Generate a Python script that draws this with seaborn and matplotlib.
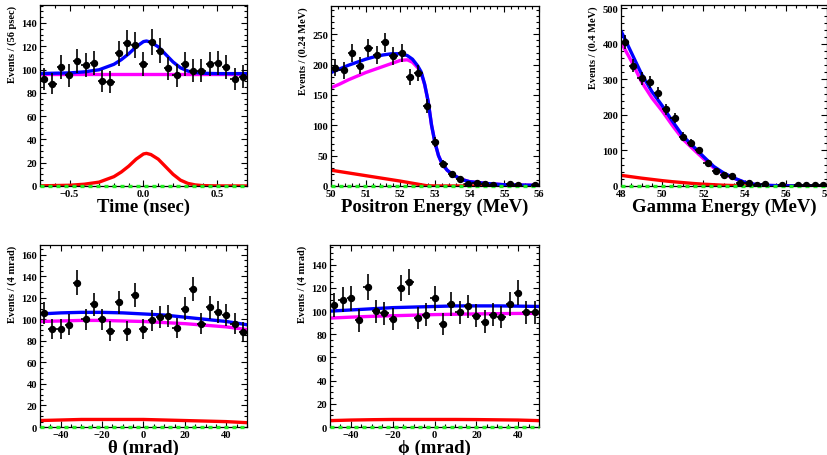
import numpy as np
import matplotlib
matplotlib.use('Agg')
import matplotlib.pyplot as plt
from matplotlib.ticker import MultipleLocator
import seaborn as sns

# ---- data ----
# Time (nsec), 25 bins of 0.056
time_x = [-0.672 + 0.056 * i for i in range(25)]
time_n = [92, 88, 102, 95, 107, 104, 106, 90, 89, 114, 123, 121, 105,
          124, 116, 101, 95, 105, 99, 99, 105, 106, 102, 92, 94]
time_cx = [-0.7, -0.5, -0.4, -0.3, -0.2, -0.15, -0.1, -0.05, 0.0, 0.02,
           0.05, 0.1, 0.15, 0.2, 0.25, 0.3, 0.35, 0.4, 0.5, 0.7]
time_red = [0.1, 0.6, 1.5, 3.3, 8.0, 12.0, 17.0, 23.0, 27.5, 28.0,
            27.0, 23.0, 16.5, 10.0, 5.0, 2.2, 0.9, 0.3, 0.05, 0.0]
time_blue = [96.6, 97.1, 98.0, 99.8, 104.5, 108.5, 113.5, 119.5, 124.0, 124.5,
             123.5, 119.5, 113.0, 106.5, 101.5, 98.7, 97.4, 96.8, 96.5, 96.5]
time_mag_x = [-0.7, 0.7]
time_mag = [96.5, 96.5]

# Positron energy (MeV), 25 bins of 0.24
epos_x = [50.12 + 0.24 * i for i in range(25)]
epos_n = [195, 191, 220, 198, 227, 216, 237, 214, 219, 180, 186, 132, 73,
          36, 19, 11, 4, 5, 4, 2, 0, 3, 1, 0, 1]
epos_cx = [50.0, 50.25, 50.5, 50.75, 51.0, 51.25, 51.5, 51.75, 52.0, 52.2,
           52.35, 52.5, 52.6, 52.7, 52.8, 52.9, 53.0, 53.1, 53.2, 53.35,
           53.5, 53.75, 54.0, 54.5, 55.0, 56.0]
epos_blue = [187, 193, 199, 204, 209, 213, 216, 218, 218, 215,
             209, 198, 188, 168, 140, 100, 71, 50, 37, 26,
             19, 11, 7, 4, 2, 1]
epos_mag = [162, 168, 175, 181, 187, 192, 197, 202, 207, 208,
            204, 195, 186, 167, 140, 100, 71, 50, 37, 26,
            19, 11, 7, 4, 2, 1]
epos_red_x = [50.0, 50.5, 51.0, 51.5, 52.0, 52.5, 52.75, 53.0, 56.0]
epos_red = [26, 21.5, 17, 12.5, 8, 3, 0.5, 0, 0]

# Gamma energy (MeV), 25 bins of 0.4
egam_x = [48.2 + 0.4 * i for i in range(25)]
egam_n = [405, 339, 303, 292, 262, 216, 191, 139, 120, 101, 64, 42, 31,
          28, 9, 8, 4, 6, 0, 3, 0, 2, 2, 3, 2]
egam_cx = [48.0, 48.5, 49.0, 49.5, 50.0, 50.5, 51.0, 51.5, 52.0, 52.5,
           53.0, 53.5, 54.0, 54.5, 55.0, 56.0, 58.0]
egam_blue = [437, 376, 315, 266, 226, 182, 141, 112, 83, 55,
             36, 22, 10.5, 4.5, 1.8, 0.4, 0]
egam_mag = [405, 352, 293, 248, 211, 170, 132, 104, 77, 51,
            34, 21, 10, 4, 1.5, 0.3, 0]
egam_red = [30, 26, 22, 18.5, 15, 12, 9.5, 7, 5, 3.5,
            2, 1.2, 0.7, 0.4, 0.2, 0, 0]

# theta (mrad), 25 bins of 4
theta_x = [-48 + 4 * i for i in range(25)]
theta_n = [106, 91, 91, 95, 134, 100, 114, 100, 89, 116, 89, 123, 91,
           99, 102, 103, 92, 110, 128, 96, 111, 107, 104, 96, 88]
ang_cx = [-50, -40, -30, -20, -10, 0, 10, 20, 30, 40, 50]
theta_blue = [105, 106, 106.5, 106.5, 106, 105, 104, 102, 100, 98, 95]
theta_mag = [98, 98.5, 99, 99, 98.5, 98, 97, 96, 94.5, 93, 90.5]
theta_red = [6, 6.5, 7, 7, 7, 7, 6.5, 6, 5.5, 5, 4]

# phi (mrad), 25 bins of 4
phi_x = [-48 + 4 * i for i in range(25)]
phi_n = [105, 110, 111, 92, 121, 100, 98, 93, 120, 125, 94, 97, 111,
         89, 106, 99, 104, 96, 91, 97, 95, 106, 116, 99, 99]
phi_blue = [100, 101, 102, 103, 103.5, 104, 104.5, 104.5, 104.5, 104.3, 104]
phi_mag = [94, 94.8, 95.5, 96, 96.5, 97, 97.3, 97.6, 97.8, 98, 98]
phi_red = [5.5, 6, 6.3, 6.5, 6.5, 6.5, 6.5, 6.4, 6.2, 6, 5.5]

# flat zero component, drawn across each panel
zero_line = [0, 0]

sns.set_theme(style='ticks')
plt.rcParams['font.family'] = ['Liberation Serif', 'DejaVu Serif']
plt.rcParams['font.weight'] = 'bold'
for k in ['text.color', 'axes.labelcolor', 'xtick.color', 'ytick.color',
          'axes.edgecolor']:
    plt.rcParams[k] = 'black'

fig = plt.figure(figsize=(8.28, 4.56), dpi=100)

BLUE, MAG, RED, GREEN = '#0000ff', '#ff00ff', '#ff0000', '#22ee22'


def panel(rect, xs, ns, halfw, curves, xlim, ylim, xmaj, xmin, ymaj, ymin,
          xlabel, ylabel):
    ax = fig.add_axes(rect)
    for cx, cy, col in curves:
        sns.lineplot(x=cx, y=cy, ax=ax, color=col, lw=2.4,
                     estimator=None, sort=False)
    # dashed green component at zero
    ax.plot(list(xlim), zero_line, color=GREEN, lw=2.4,
            linestyle=(0, (1.2, 1.2)), clip_on=False, zorder=4)
    xs = np.array(xs)
    ns = np.array(ns, dtype=float)
    keep = ns > 0
    ax.errorbar(xs[keep], ns[keep], yerr=np.sqrt(ns[keep]), xerr=halfw,
                fmt='o', color='black', ms=4.3, elinewidth=1.2, capsize=0,
                zorder=5)
    ax.set_xlim(*xlim)
    ax.set_ylim(*ylim)
    ax.xaxis.set_major_locator(MultipleLocator(xmaj))
    ax.xaxis.set_minor_locator(MultipleLocator(xmin))
    ax.yaxis.set_major_locator(MultipleLocator(ymaj))
    ax.yaxis.set_minor_locator(MultipleLocator(ymin))
    ax.tick_params(which='both', direction='in', top=True, right=True,
                   labelsize=7.6, pad=2, width=0.8, color='black',
                   labelcolor='black')
    ax.tick_params(which='major', length=4.5)
    ax.tick_params(which='minor', length=2.3)
    for lab in ax.get_xticklabels() + ax.get_yticklabels():
        lab.set_fontweight('bold')
    for sp in ax.spines.values():
        sp.set_linewidth(0.9)
        sp.set_color('black')
    ax.set_xlabel(xlabel, fontsize=13.5, fontweight='bold', labelpad=0)
    ax.set_ylabel(ylabel, fontsize=7.5, fontweight='bold', loc='top',
                  labelpad=3)
    return ax


panel([0.0483, 0.590, 0.250, 0.397], time_x, time_n, 0.028,
      [(time_mag_x, time_mag, MAG), (time_cx, time_red, RED),
       (time_cx, time_blue, BLUE)],
      (-0.7, 0.7), (0, 155.5), 0.5, 0.1, 20, 5,
      'Time (nsec)', 'Events / (56 psec)')

panel([0.3998, 0.590, 0.2512, 0.395], epos_x, epos_n, 0.12,
      [(epos_cx, epos_mag, MAG), (epos_red_x, epos_red, RED),
       (epos_cx, epos_blue, BLUE)],
      (50, 56), (0, 297), 1, 0.2, 50, 10,
      'Positron Energy (MeV)', 'Events / (0.24 MeV)')

panel([0.750, 0.590, 0.2488, 0.397], egam_x, egam_n, 0.2,
      [(egam_cx, egam_mag, MAG), (egam_cx, egam_red, RED),
       (egam_cx, egam_blue, BLUE)],
      (48, 58), (0, 510), 2, 0.5, 100, 20,
      'Gamma Energy (MeV)', 'Events / (0.4 MeV)')

panel([0.0483, 0.0614, 0.250, 0.399], theta_x, theta_n, 2,
      [(ang_cx, theta_mag, MAG), (ang_cx, theta_red, RED),
       (ang_cx, theta_blue, BLUE)],
      (-50, 50), (0, 169), 20, 5, 20, 5,
      '\u03b8 (mrad)', 'Events / (4 mrad)')

panel([0.3986, 0.0614, 0.2524, 0.399], phi_x, phi_n, 2,
      [(ang_cx, phi_mag, MAG), (ang_cx, phi_red, RED),
       (ang_cx, phi_blue, BLUE)],
      (-50, 50), (0, 157), 20, 5, 20, 5,
      '\u03d5 (mrad)', 'Events / (4 mrad)')

fig.savefig('out.png', dpi=100)
